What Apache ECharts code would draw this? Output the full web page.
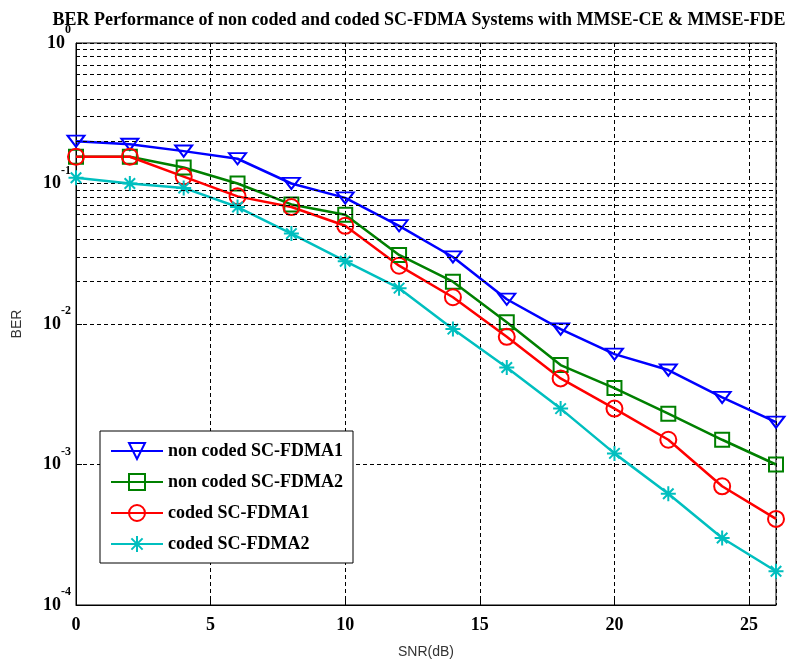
<!DOCTYPE html>
<html lang="en">
<head>
  <meta charset="UTF-8">
  <title>BER SC-FDMA</title>
  <style>
    html, body { margin: 0; padding: 0; background: #fff; }
    #echart { width: 798px; height: 664px; }
  </style>
</head>
<body>
  <div id="echart"></div>
  <script src="https://cdn.jsdelivr.net/npm/echarts@6/dist/echarts.min.js"></script>
  <script>
    // SNR points (dB)
    var snr = [0, 2, 4, 6, 8, 10, 12, 14, 16, 18, 20, 22, 24, 26];
    // BER values
    var nonCoded1 = [0.2, 0.19, 0.17, 0.15, 0.1, 0.079, 0.05, 0.03, 0.015, 0.0092, 0.0061, 0.0047, 0.003, 0.002];
    var nonCoded2 = [0.155, 0.155, 0.13, 0.1, 0.071, 0.06, 0.031, 0.02, 0.0103, 0.0051, 0.0035, 0.0023, 0.0015, 0.001];
    var coded1 = [0.155, 0.155, 0.112, 0.081, 0.068, 0.05, 0.026, 0.0155, 0.0081, 0.0041, 0.0025, 0.0015, 0.0007, 0.00041];
    var coded2 = [0.11, 0.1, 0.093, 0.068, 0.044, 0.028, 0.018, 0.0092, 0.0049, 0.0025, 0.0012, 0.00062, 0.0003, 0.000174];
    var names = ['non coded SC-FDMA1', 'non coded SC-FDMA2', 'coded SC-FDMA1', 'coded SC-FDMA2'];
    var colors = ['#0000ff', '#008000', '#ff0000', '#00bfbf'];
    var symbols = [
      'path://M0,0L10,0L5,8Z',
      'rect',
      'circle',
      'path://M0,-10L0,10M-10,0L10,0M-7,-7L7,7M-7,7L7,-7'
    ];
    var sizes = [[17, 14], 14, 16, 15];

    // minor log grid lines (2..9 x 10^n)
    var minorVals = [];
    for (var n = -4; n < 0; n++) {
      for (var k = 2; k < 10; k++) {
        minorVals.push({ yAxis: k * Math.pow(10, n) });
      }
    }

    function pairs(ys) {
      return snr.map(function (x, i) { return [x, ys[i]]; });
    }

    var serif = 'Liberation Serif';
    var allData = [nonCoded1, nonCoded2, coded1, coded2];

    var series = allData.map(function (d, i) {
      return {
        name: names[i],
        type: 'line',
        data: pairs(d),
        z: 3,
        symbol: symbols[i],
        symbolSize: sizes[i],
        symbolKeepAspect: true,
        showAllSymbol: true,
        lineStyle: { color: colors[i], width: 2.5 },
        itemStyle: { color: 'rgba(0,0,0,0)', borderColor: colors[i], borderWidth: 2 },
        emphasis: { disabled: true },
        animation: false
      };
    });

    series.push({
      name: 'minor',
      type: 'line',
      data: [],
      z: 1,
      silent: true,
      markLine: {
        silent: true,
        animation: false,
        symbol: ['none', 'none'],
        label: { show: false },
        lineStyle: { color: '#000', type: [4, 3], width: 1 },
        data: minorVals
      }
    });

    var option = {
      animation: false,
      title: {
        text: 'BER Performance of non coded and coded SC-FDMA Systems with MMSE-CE & MMSE-FDE',
        left: 414,
        textAlign: 'center',
        top: 6,
        textStyle: { fontFamily: serif, fontWeight: 'bold', fontSize: 18, color: '#000' }
      },
      grid: {
        left: 76, right: 22, top: 43, bottom: 57,
        show: true, borderColor: '#000', borderWidth: 1, containLabel: false
      },
      legend: {
        data: names,
        orient: 'vertical',
        left: 100,
        top: 431,
        itemWidth: 52,
        itemHeight: 20,
        itemGap: 13,
        padding: [11, 10, 10, 10],
        backgroundColor: '#fff',
        borderColor: '#000',
        borderWidth: 1,
        textStyle: { fontFamily: serif, fontWeight: 'bold', fontSize: 18, color: '#000' }
      },
      xAxis: {
        type: 'value',
        min: 0,
        max: 26,
        interval: 5,
        name: 'SNR(dB)',
        nameLocation: 'middle',
        nameGap: 40,
        nameTextStyle: { fontFamily: 'Liberation Sans', fontSize: 14, color: '#333' },
        axisLine: { lineStyle: { color: '#000', width: 1 } },
        axisTick: { inside: true, length: 6, lineStyle: { color: '#000' } },
        axisLabel: {
          margin: 11,
          showMaxLabel: false,
          fontFamily: serif, fontWeight: 'bold', fontSize: 18, color: '#000',
          formatter: function (v) { return v % 5 === 0 ? v : ''; }
        },
        splitLine: { show: true, lineStyle: { color: '#000', type: [4, 3], width: 1 } }
      },
      yAxis: {
        type: 'log',
        logBase: 10,
        min: 1e-4,
        max: 1,
        name: 'BER',
        nameLocation: 'middle',
        nameGap: 52,
        nameTextStyle: { fontFamily: 'Liberation Sans', fontSize: 14, color: '#333' },
        axisLine: { lineStyle: { color: '#000', width: 1 } },
        axisTick: { inside: true, length: 6, lineStyle: { color: '#000' } },
        axisLabel: {
          margin: 5,
          formatter: function (v) {
            var e = Math.round(Math.log10(v));
            return '{b|10}{s|' + e + '}';
          },
          rich: {
            b: { fontFamily: serif, fontWeight: 'bold', fontSize: 18, lineHeight: 18, color: '#000' },
            s: { fontFamily: serif, fontWeight: 'bold', fontSize: 12, lineHeight: 12, padding: [0, 0, 26, 0], color: '#000' }
          }
        },
        splitLine: { show: true, lineStyle: { color: '#000', type: [4, 3], width: 1 } }
      },
      series: series
    };

    var myChart = echarts.init(document.getElementById('echart'));
    myChart.setOption(option);
  </script>
</body>
</html>
